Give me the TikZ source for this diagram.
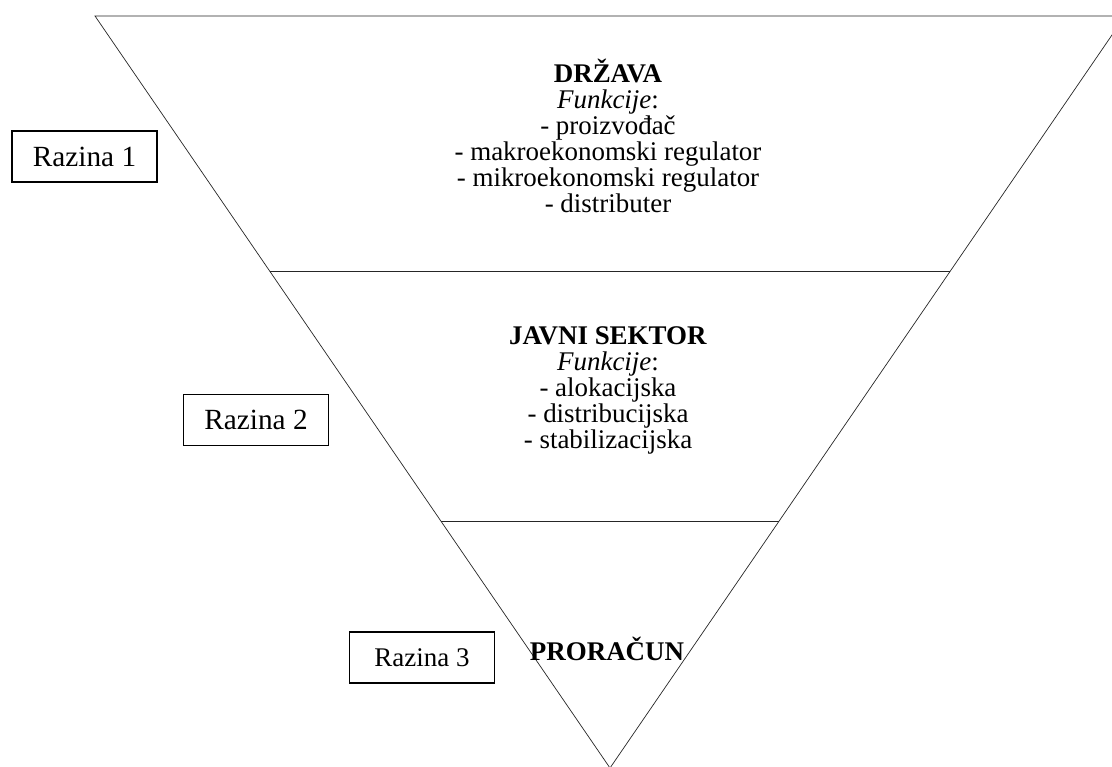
\documentclass[tikz,border=0pt]{standalone}
\usepackage{fontspec}
\setmainfont{Liberation Serif}
\usetikzlibrary{calc}
\tikzset{
  rub/.style={line width=0.6pt, black!85},
  sloj/.style={align=center, anchor=base, inner sep=0pt, font=\fontsize{23}{22.2}\selectfont},
  razina/.style={draw, line width=1.1pt, minimum width=4.35cm, minimum height=1.53cm, inner sep=0pt, font=\fontsize{25}{27}\selectfont}
}
\begin{document}
\begin{tikzpicture}[x=0.03cm,y=-0.03cm]
\useasboundingbox (0,0) rectangle (1112,767);
\clip (0,0) rectangle (1112,767);
% piramida
\coordinate (L) at (95,16);
\coordinate (R) at (1125,16);
\coordinate (V) at (610,768);
\coordinate (l1) at ($(L)!0.340!(V)$);
\coordinate (d1) at ($(R)!0.340!(V)$);
\coordinate (l2) at ($(L)!0.672!(V)$);
\coordinate (d2) at ($(R)!0.672!(V)$);
\draw[rub] (L) -- (R) -- (V) -- cycle;
\draw[rub] (l1) -- (d1);
\draw[rub] (l2) -- (d2);
% tekst (base = zadnji redak)
\node[sloj] (drzava) at (608,213) {\textbf{DRŽAVA}\\\textit{Funkcije}:\\- proizvođač\\- makroekonomski regulator\\- mikroekonomski regulator\\- distributer};
\node[sloj] (javni) at (608,449) {\textbf{JAVNI SEKTOR}\\\textit{Funkcije}:\\- alokacijska\\- distribucijska\\- stabilizacijska};
\node[sloj] (proracun) at (607,660) {\textbf{PRORAČUN}};
% razine
\node[razina] (r1) at (84.5,156.5) {Razina 1};
\node[razina] (r2) at (256,420) {Razina 2};
\node[razina, font=\fontsize{23}{25}\selectfont] (r3) at (422,657.5) {Razina 3};
\end{tikzpicture}
\end{document}
